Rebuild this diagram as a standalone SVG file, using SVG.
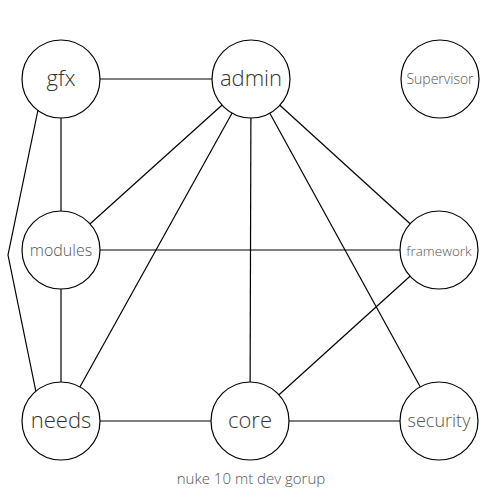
<svg xmlns="http://www.w3.org/2000/svg" width="500" height="500" viewBox="0 0 500 500">
<style>
  .edge { stroke: #000; stroke-width: 1.2; fill: none; }
  .node circle { fill: #fff; stroke: #000; stroke-width: 1.2; }
  .node text { font-family: "Open Sans", "Noto Sans", sans-serif; font-weight: 300; text-anchor: middle; fill: #333; }
  .big { font-size: 22px; }
  .mid { font-size: 18px; fill: #555 !important; }
  .modtext { font-size: 16px; fill: #555 !important; }
  .small { font-size: 14px; fill: #555 !important; }
  .fw { font-size: 13.5px; fill: #555 !important; }
  .caption { font-family: "Open Sans", "Noto Sans", sans-serif; font-weight: 300; font-size: 15px; fill: #555; text-anchor: middle; }
</style>
<rect width="500" height="500" fill="#fff"/>
<g id="connectors">
  <line class="edge" x1="61" y1="79" x2="251" y2="79"/>
  <line class="edge" x1="61" y1="79" x2="61" y2="250"/>
  <polyline class="edge" points="38,110 8,255 36,392"/>
  <line class="edge" x1="251" y1="79" x2="61" y2="250"/>
  <line class="edge" x1="251" y1="79" x2="61" y2="421"/>
  <line class="edge" x1="251" y1="79" x2="250" y2="421"/>
  <line class="edge" x1="251" y1="79" x2="439" y2="250"/>
  <line class="edge" x1="251" y1="79" x2="439" y2="421"/>
  <line class="edge" x1="61" y1="250" x2="439" y2="250"/>
  <line class="edge" x1="61" y1="250" x2="61" y2="421"/>
  <line class="edge" x1="439" y1="250" x2="250" y2="421"/>
  <line class="edge" x1="61" y1="421" x2="250" y2="421"/>
  <line class="edge" x1="250" y1="421" x2="439" y2="421"/>
</g>
<g id="gfx" class="node"><circle cx="61" cy="79" r="39"/><text class="big" x="61" y="86">gfx</text></g>
<g id="admin" class="node"><circle cx="251" cy="79" r="39"/><text class="big" x="251" y="86">admin</text></g>
<g id="Supervisor" class="node"><circle cx="440" cy="79" r="39"/><text class="small" x="440" y="84">Supervisor</text></g>
<g id="modules" class="node"><circle cx="61" cy="250" r="39"/><text class="modtext" x="61" y="256">modules</text></g>
<g id="framework" class="node"><circle cx="439" cy="250" r="39"/><text class="fw" x="439" y="256">framework</text></g>
<g id="needs" class="node"><circle cx="61" cy="421" r="39"/><text class="big" x="61" y="428">needs</text></g>
<g id="core" class="node"><circle cx="250" cy="421" r="39"/><text class="big" x="250" y="428">core</text></g>
<g id="security" class="node"><circle cx="439" cy="421" r="39"/><text class="mid" x="439" y="427">security</text></g>
<text class="caption" x="251" y="484">nuke 10 mt dev gorup</text>
</svg>
